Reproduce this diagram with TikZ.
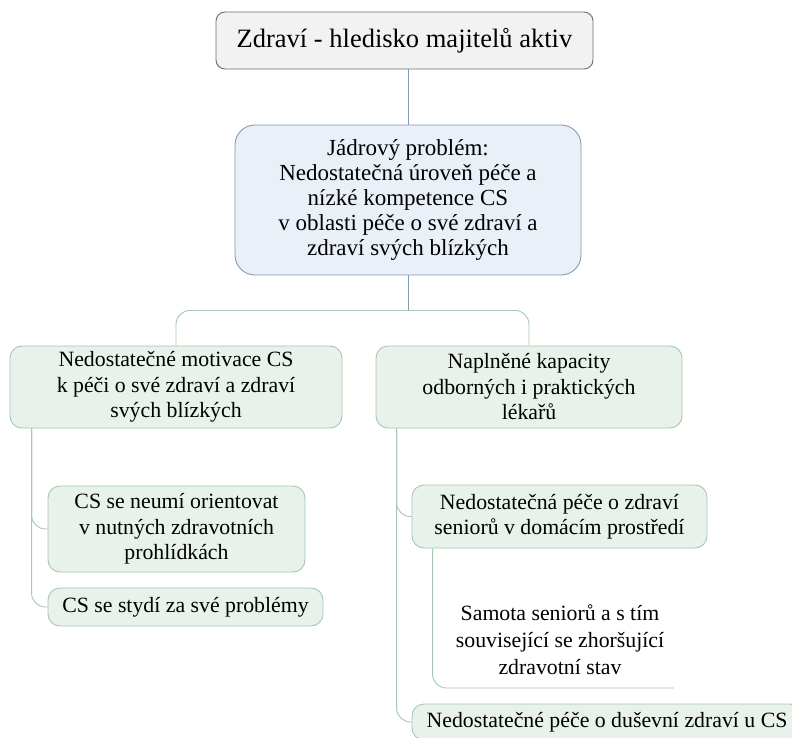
\documentclass[tikz,border=0pt]{standalone}
\usepackage{fontspec}
\setmainfont{Liberation Serif}
\definecolor{topfill}{HTML}{F2F2F2}
\definecolor{topline}{HTML}{6E6E6E}
\definecolor{corefill}{HTML}{EAF0F8}
\definecolor{coreline}{HTML}{8797AE}
\definecolor{grfill}{HTML}{E8F2EA}
\definecolor{grline}{HTML}{A6C7B2}
\definecolor{blueconn}{HTML}{7F9CB8}
\tikzset{
  box/.style={draw, line width=0.9pt, inner sep=0pt, align=center, anchor=center,
    font=\fontsize{21.8}{25.5}\selectfont},
  topbox/.style={box, fill=topfill, draw=topline, rounded corners=9pt,
    font=\fontsize{26.5}{30}\selectfont},
  corebox/.style={box, fill=corefill, draw=coreline, rounded corners=20pt,
    font=\fontsize{23}{25}\selectfont},
  grbox/.style={box, fill=grfill, draw=grline, rounded corners=12pt},
  plaintext/.style={inner sep=0pt, align=center, font=\fontsize{21.8}{27}\selectfont},
  bconn/.style={draw=blueconn, line width=0.9pt},
  gconn/.style={draw=grline, line width=0.9pt, rounded corners=14pt},
}
\begin{document}
\begin{tikzpicture}[x=1pt,y=-1pt]
\useasboundingbox (0,0) rectangle (792,738);
\clip (0,0) rectangle (792,738);
\fill[white] (0,0) rectangle (792,738);

\node[topbox, minimum width=377pt, minimum height=57pt] (top) at (404.5,40.5) {Zdraví - hledisko majitelů aktiv};
\node[corebox, minimum width=346pt, minimum height=150pt] (core) at (408,200)
  {Jádrový problém:\\Nedostatečná úroveň péče a\\nízké kompetence CS\\v oblasti péče o své zdraví a\\zdraví svých blízkých};
\node[grbox, minimum width=332pt, minimum height=82pt] (left) at (176,387)
  {Nedostatečné motivace CS\\k péči o své zdraví a zdraví\\svých blízkých};
\node[grbox, minimum width=306pt, minimum height=82pt] (right) at (529,387)
  {Naplněné kapacity\\odborných i praktických\\lékařů};
\node[grbox, minimum width=257pt, minimum height=86pt] (c1) at (176.5,529)
  {CS se neumí orientovat\\v nutných zdravotních\\prohlídkách};
\node[grbox, minimum width=275pt, minimum height=38pt] (c2) at (185.5,607)
  {CS se stydí za své problémy};
\node[grbox, minimum width=295pt, minimum height=63pt] (r1) at (559.5,516.5)
  {Nedostatečná péče o zdraví\\seniorů v domácím prostředí};
\node[grbox, minimum width=390pt, minimum height=36pt] (r2) at (607,722)
  {Nedostatečné péče o duševní zdraví u CS};
\node[plaintext] (samota) at (560,640)
  {Samota seniorů a s tím\\související se zhoršující\\zdravotní stav};
\coordinate (sline) at (674,688);

% connectors
\draw[bconn] (core.north |- top.south) -- (core.north);
\draw[bconn] (core.south) -- ++(0,35) coordinate (br);
\draw[gconn] (left.north) |- (br) -| (right.north);
\draw[gconn] ([xshift=22pt]left.south west) |- (c1.west);
\draw[gconn] ([xshift=22pt]left.south west) |- (c2.west);
\draw[gconn] ([xshift=21pt]right.south west) |- (r1.west);
\draw[gconn] ([xshift=21pt]right.south west) |- (r2.west);
\draw[gconn] ([xshift=21pt]r1.south west) |- (sline);
\end{tikzpicture}
\end{document}
